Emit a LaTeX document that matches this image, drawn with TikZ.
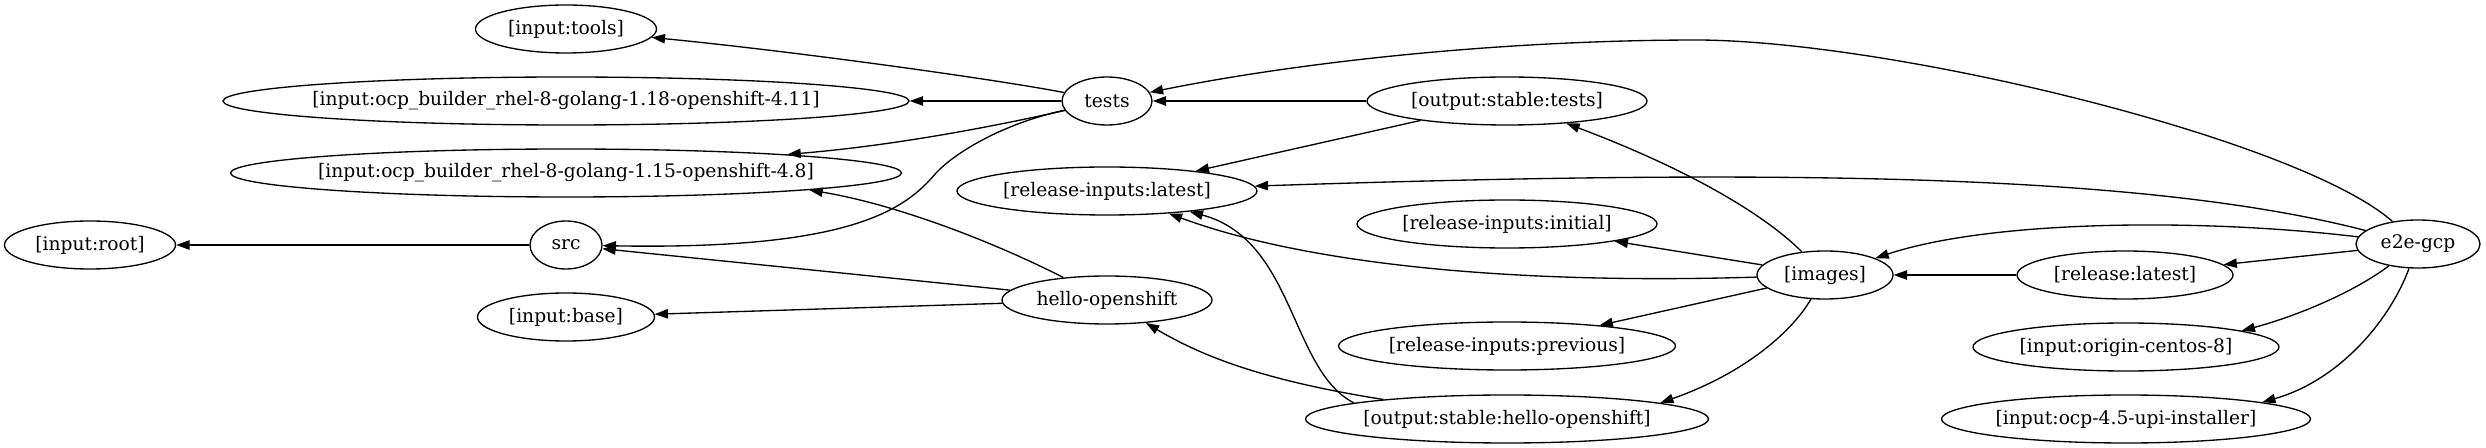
\documentclass[tikz,border=0pt]{standalone}
\usepackage{fontspec}
\setmainfont{DejaVu Serif}
\usetikzlibrary{shapes.geometric,arrows.meta}
\begin{document}
\begin{tikzpicture}[x=0.75pt,y=-0.75pt,>={Triangle[length=10pt,width=7pt]},
    job/.style={draw,ellipse,line width=1pt,inner xsep=-12pt,inner ysep=0pt,minimum height=36pt,minimum width=#1*0.75pt,font=\fontsize{14}{16}\selectfont},
    dep/.style={->,line width=1pt}]
        \useasboundingbox (0,0) rectangle (2486,448);
        \node[job=171](root)at(90,245){[input:root]};
        \node[job=181](tools)at(566,29){[input:tools]};
        \node[job=686](ocpnew)at(566,101){[input:ocp\_builder\_rhel-8-golang-1.18-openshift-4.11]};
        \node[job=671](ocpold)at(566,173){[input:ocp\_builder\_rhel-8-golang-1.15-openshift-4.8]};
        \node[job=72](src)at(566,245){src};
        \node[job=177](base)at(566,317){[input:base]};
        \node[job=90](tests)at(1107,101){tests};
        \node[job=300](rilatest)at(1107,191){[release-inputs:latest]};
        \node[job=210](hello)at(1107,300){hello-openshift};
        \node[job=280](ostests)at(1507,101){[output:stable:tests]};
        \node[job=300](riinitial)at(1507,224){[release-inputs:initial]};
        \node[job=337](riprevious)at(1507,346){[release-inputs:previous]};
        \node[job=403](oshello)at(1507,419){[output:stable:hello-openshift]};
        \node[job=136](images)at(1825,275){[images]};
        \node[job=216](rellatest)at(2125,275){[release:latest]};
        \node[job=306](origin)at(2126,347){[input:origin-centos-8]};
        \node[job=369](upi)at(2126,419){[input:ocp-4.5-upi-installer]};
        \node[job=124](e2e)at(2418,244){e2e-gcp};

        \draw[dep](tests)..controls(1000,80)and(800,52)..(tools);
        \draw[dep](tests)--(ocpnew);
        \draw[dep](tests)..controls(1000,125)and(900,145)..(ocpold);
        \draw[dep](tests)..controls(1010,122)and(960,148)..(936,173)..controls(905,210)and(850,250)..(src);
        \draw[dep](ostests)--(tests);
        \draw[dep](e2e)..controls(2300,140)and(1900,42)..(1700,40)..controls(1500,40)and(1300,62)..(tests);
        \draw[dep](ostests)--(rilatest);
        \draw[dep](e2e)..controls(2150,175)and(1800,168)..(rilatest);
        \draw[dep](images)..controls(1500,285)and(1300,262)..(rilatest.-20);
        \draw[dep](oshello.174)..controls(1290,370)and(1295,240)..(rilatest.-14);
        \draw[dep](images)..controls(1765,215)and(1690,170)..(ostests);
        \draw[dep](images)--(riinitial);
        \draw[dep](images)--(riprevious);
        \draw[dep](images)..controls(1790,335)and(1740,375)..(oshello.6);
        \draw[dep](hello)..controls(1000,245)and(900,205)..(ocpold.-4);
        \draw[dep](hello)--(src);
        \draw[dep](hello)--(base);
        \draw[dep](oshello)..controls(1260,380)and(1200,355)..(hello);
        \draw[dep](src)--(root);
        \draw[dep](rellatest)--(images);
        \draw[dep](e2e)..controls(2200,218)and(1990,220)..(images);
        \draw[dep](e2e)--(rellatest);
        \draw[dep](e2e)..controls(2350,295)and(2290,318)..(origin.8);
        \draw[dep](e2e)..controls(2390,320)and(2340,380)..(upi.7);
    \end{tikzpicture}
\end{document}
